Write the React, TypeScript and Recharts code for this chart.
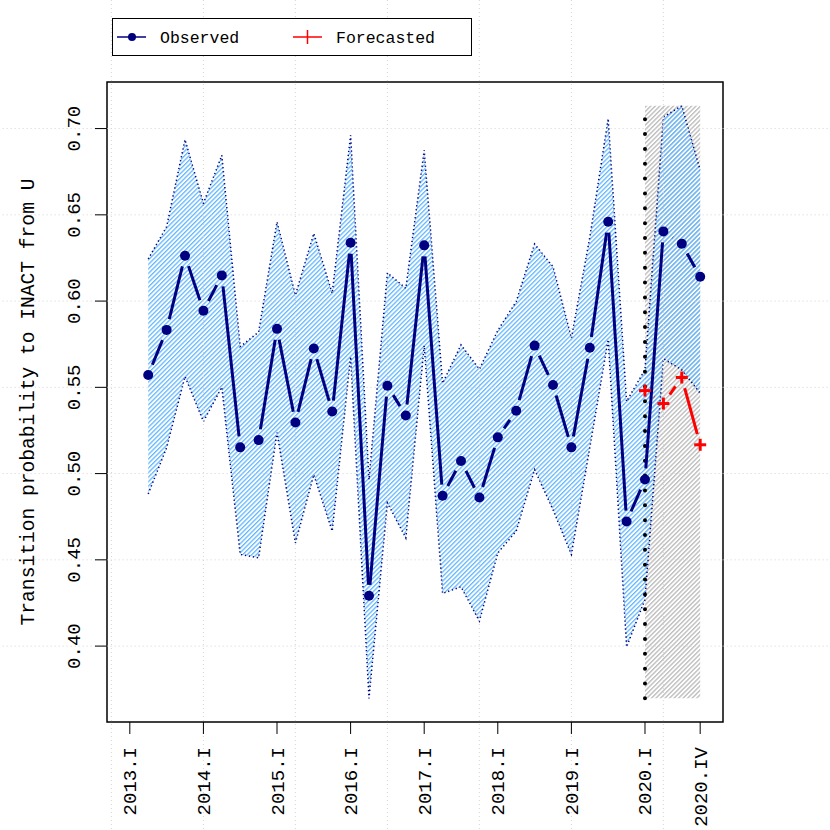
import { ComposedChart, Area, Line, XAxis, YAxis, ReferenceArea, ReferenceLine } from 'recharts';

// quarterly periods, 2013.II .. 2020.IV
const periods = [
  '2013.II', '2013.III', '2013.IV',
  '2014.I', '2014.II', '2014.III', '2014.IV',
  '2015.I', '2015.II', '2015.III', '2015.IV',
  '2016.I', '2016.II', '2016.III', '2016.IV',
  '2017.I', '2017.II', '2017.III', '2017.IV',
  '2018.I', '2018.II', '2018.III', '2018.IV',
  '2019.I', '2019.II', '2019.III', '2019.IV',
  '2020.I', '2020.II', '2020.III', '2020.IV',
];

const observed = [
  0.5572, 0.5833, 0.6263,
  0.5944, 0.6149, 0.5152, 0.5194,
  0.5839, 0.5296, 0.5725, 0.5360,
  0.6338, 0.4292, 0.5509, 0.5337,
  0.6323, 0.4872, 0.5073, 0.4861,
  0.5210, 0.5364, 0.5742, 0.5514,
  0.5152, 0.5729, 0.6460, 0.4722,
  0.4966, 0.6404, 0.6332, 0.6141,
];

const upper = [
  0.6244, 0.6431, 0.6936,
  0.6566, 0.6845, 0.5736, 0.5820,
  0.6459, 0.6035, 0.6392, 0.6045,
  0.6961, 0.4965, 0.6164, 0.6074,
  0.6874, 0.5524, 0.5746, 0.5605,
  0.5830, 0.5997, 0.6331, 0.6199,
  0.5786, 0.6370, 0.7058, 0.5418,
  0.5603, 0.7067, 0.7132, 0.6759,
];

const lower = [
  0.4882, 0.5150, 0.5563,
  0.5302, 0.5501, 0.4531, 0.4512,
  0.5238, 0.4598, 0.4994, 0.4666,
  0.5678, 0.3697, 0.4830, 0.4627,
  0.5742, 0.4305, 0.4344, 0.4145,
  0.4540, 0.4666, 0.5023, 0.4791,
  0.4531, 0.5150, 0.5777, 0.3995,
  0.4270, 0.5666, 0.5601, 0.5466,
];

const forecastPeriods = ['2020.I', '2020.II', '2020.III', '2020.IV'];
const forecast = [0.5481, 0.5406, 0.5557, 0.5167];

const xTickLabels = ['2013.I', '2014.I', '2015.I', '2016.I', '2017.I', '2018.I', '2019.I', '2020.I', '2020.IV'];
const yTicks = [0.40, 0.45, 0.50, 0.55, 0.60, 0.65, 0.70];
const gridPeriods = ['2012.IV', '2014.I', '2015.II', '2016.III', '2017.IV', '2019.I', '2020.II'];

const ROMAN: Record<string, number> = { I: 0, II: 1, III: 2, IV: 3 };
const toX = (p: string) => {
  const [yr, q] = p.split('.');
  return Number(yr) + ROMAN[q] / 4;
};

const NAVY = '#000080';
const RED = '#FF0000';
const FONT = '"Liberation Mono", "DejaVu Sans Mono", monospace';
const X_DOMAIN = [2012.69, 2021.06];
const Y_DOMAIN = [0.356, 0.727];
const GAP = 11;

const rows = periods.map((p, i) => ({ x: toX(p), observed: observed[i], band: [lower[i], upper[i]] }));
const forecastRows = forecastPeriods.map((p, i) => ({ x: toX(p), forecast: forecast[i] }));
const xTicks = xTickLabels.map(toX);
const labelOf: Record<number, string> = Object.fromEntries(xTickLabels.map(l => [toX(l), l]));

const bandMin = Math.min(...lower);
const bandMax = Math.max(...upper);

// type="b" style: segments stop short of the markers
function gapped(color: string, marker: (x: number, y: number) => any) {
  return (props: any) => {
    const { cx, cy, index, points } = props;
    const next = points && points[index + 1];
    let seg = null;
    if (next && next.x != null && next.y != null) {
      const dx = next.x - cx, dy = next.y - cy;
      const d = Math.hypot(dx, dy);
      if (d > 2 * GAP) {
        const ux = dx / d, uy = dy / d;
        seg = <line x1={cx + ux * GAP} y1={cy + uy * GAP} x2={next.x - ux * GAP} y2={next.y - uy * GAP} stroke={color} strokeWidth={3} />;
      }
    }
    return <g key={`pt-${color}-${index}`}>{seg}{marker(cx, cy)}</g>;
  };
}

const circle = (x: number, y: number) => <circle cx={x} cy={y} r={5} fill={NAVY} />;
const plus = (x: number, y: number) => (
  <g stroke={RED} strokeWidth={3}>
    <line x1={x - 6} y1={y} x2={x + 6} y2={y} />
    <line x1={x} y1={y - 6} x2={x} y2={y + 6} />
  </g>
);

const XTick = ({ x, y, payload }: any) => (
  <text x={x + 6.5} y={y + 11} transform={`rotate(-90, ${x + 6.5}, ${y + 11})`} textAnchor="end"
    fontFamily={FONT} fontSize={19} fill="#000">
    {labelOf[payload.value] ?? ''}
  </text>
);

const YTick = ({ x, y, payload }: any) => (
  <text x={x - 13} y={y} transform={`rotate(-90, ${x - 13}, ${y})`} textAnchor="middle"
    fontFamily={FONT} fontSize={19} fill="#000">
    {Number(payload.value).toFixed(2)}
  </text>
);

function Legend() {
  return (
    <div style={{ position: 'absolute', left: 112, top: 18, width: 358, height: 36, border: '1.5px solid #000', background: '#fff', fontFamily: FONT, fontSize: 16 }}>
      <svg width={358} height={36} style={{ position: 'absolute', left: 0, top: 0 }}>
        <line x1={4} y1={18} x2={33} y2={18} stroke={NAVY} strokeWidth={1.5} />
        <circle cx={19} cy={18} r={4} fill={NAVY} />
        <line x1={180} y1={18} x2={209} y2={18} stroke={RED} strokeWidth={1.5} />
        <line x1={194.5} y1={11} x2={194.5} y2={25} stroke={RED} strokeWidth={1.5} />
        <text x={47} y={23.5} fontFamily={FONT} fontSize={16.5}>Observed</text>
        <text x={223} y={23.5} fontFamily={FONT} fontSize={16.5}>Forecasted</text>
      </svg>
    </div>
  );
}

export default function App() {
  return (
    <div style={{ position: 'absolute', left: 0, top: 0, width: 830, height: 830, background: '#fff' }}>
      <ComposedChart width={830} height={830} data={rows} margin={{ top: 82, right: 107, bottom: 0, left: 0 }}>
        <defs>
          <pattern id="hatchBlue" patternUnits="userSpaceOnUse" width={3.2} height={3.2} patternTransform="rotate(45)">
            <rect x={0} y={0} width={1.3} height={3.2} fill="#63B8FF" />
          </pattern>
          <pattern id="hatchGray" patternUnits="userSpaceOnUse" width={3.2} height={3.2} patternTransform="rotate(45)">
            <rect x={0} y={0} width={1.4} height={3.2} fill="#BEBEBE" />
          </pattern>
        </defs>
        <XAxis dataKey="x" type="number" domain={X_DOMAIN} ticks={xTicks} allowDataOverflow interval={0}
          height={108} tickSize={12} axisLine={false} tickLine={{ stroke: '#000' }} tick={<XTick />} />
        <YAxis type="number" domain={Y_DOMAIN} ticks={yTicks} allowDataOverflow interval={0}
          width={107} tickSize={12} axisLine={false} tickLine={{ stroke: '#000' }} tick={<YTick />}
          label={(p: any) => {
            const vb = p.viewBox || { x: 0, y: 82, height: 640 };
            const cx = vb.x + 34, cy = vb.y + vb.height / 2;
            return (
              <text x={cx} y={cy} transform={`rotate(-90, ${cx}, ${cy})`} textAnchor="middle" fontFamily={FONT} fontSize={19.6} fill="#000">
                Transition probability to INACT from U
              </text>
            );
          }} />
        {yTicks.map(v => (
          <ReferenceLine key={`gy${v}`} segment={[{ x: 2011, y: v }, { x: 2023, y: v }]} ifOverflow="visible"
            stroke="#D3D3D3" strokeWidth={1} strokeDasharray="1 3" />
        ))}
        {gridPeriods.map(p => (
          <ReferenceLine key={`gx${p}`} segment={[{ x: toX(p), y: 0.28 }, { x: toX(p), y: 0.80 }]} ifOverflow="visible"
            stroke="#D3D3D3" strokeWidth={1} strokeDasharray="1 3" />
        ))}
        <ReferenceArea x1={toX(forecastPeriods[0])} x2={toX(forecastPeriods[forecastPeriods.length - 1])} y1={bandMin} y2={bandMax}
          fill="url(#hatchGray)" fillOpacity={1} stroke="none" ifOverflow="visible" />
        <Area type="linear" dataKey="band" stroke={NAVY} strokeWidth={1.5} strokeDasharray="1.3 2.7"
          fill="url(#hatchBlue)" fillOpacity={1} dot={false} activeDot={false} isAnimationActive={false} />
        <ReferenceLine segment={[{ x: toX(forecastPeriods[0]), y: bandMin }, { x: toX(forecastPeriods[0]), y: bandMax }]}
          ifOverflow="visible" stroke="#000" strokeWidth={4} strokeDasharray="0 14.85" strokeLinecap="round" />
        <Line type="linear" dataKey="observed" stroke="none" dot={gapped(NAVY, circle)} activeDot={false} isAnimationActive={false} />
        <Line type="linear" data={forecastRows} dataKey="forecast" stroke="none" dot={gapped(RED, plus)} activeDot={false} isAnimationActive={false} />
        <ReferenceArea x1={X_DOMAIN[0]} x2={X_DOMAIN[1]} y1={Y_DOMAIN[0]} y2={Y_DOMAIN[1]}
          fill="none" stroke="#000" strokeWidth={1.5} ifOverflow="visible" />
      </ComposedChart>
      <Legend />
    </div>
  );
}
